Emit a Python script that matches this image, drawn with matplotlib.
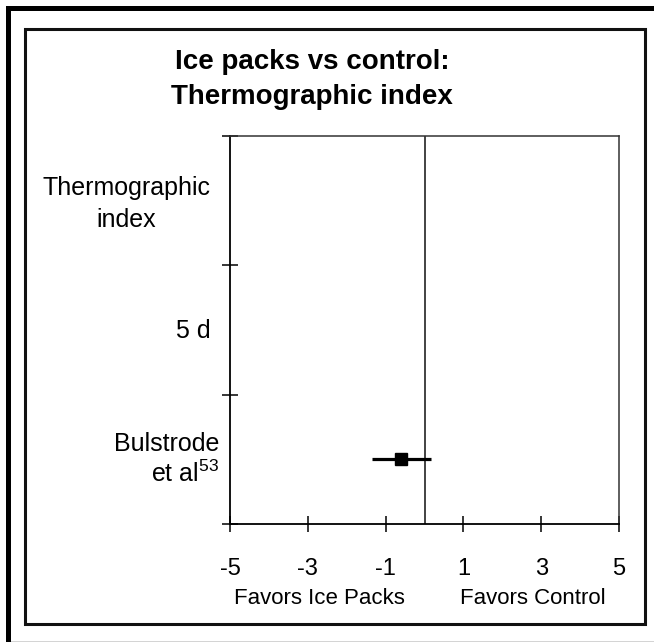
import matplotlib
matplotlib.use("Agg")
import matplotlib.pyplot as plt
from matplotlib.patches import Rectangle

# --- data ---
row_labels = ["Thermographic\nindex", "5 d", "Bulstrode\net al$^{53}$"]
study_labels = ["Bulstrode et al"]
study_mean = [-0.61]
study_lo = [-1.35]
study_hi = [0.16]
study_row = [2]          # which row (from the top) the study sits in
x_ticks = [-5, -3, -1, 1, 3, 5]
favors_left = "Favors Ice Packs"
favors_right = "Favors Control"
title = "Ice packs vs control:\nThermographic index"

plt.rcParams["font.family"] = ["Liberation Sans", "DejaVu Sans"]
plt.rcParams["mathtext.fontset"] = "custom"
plt.rcParams["mathtext.rm"] = "Liberation Sans"
plt.rcParams["mathtext.default"] = "regular"

W, H = 654, 642
fig = plt.figure(figsize=(W / 100, H / 100), dpi=100)


def px_rect(x0, y0, x1, y1, **kw):
    # rectangle given in pixel coords (origin top-left)
    return Rectangle((x0 / W, 1 - y1 / H), (x1 - x0) / W, (y1 - y0) / H,
                     transform=fig.transFigure, **kw)


# outer thick frame (only top and left show), grey line at the bottom
fig.add_artist(px_rect(6, 6, 654, 11, color="black", lw=0))
fig.add_artist(px_rect(6, 6, 11, 642, color="black", lw=0))
fig.add_artist(px_rect(11, 640.5, 654, 642, color="#d4d4d4", lw=0))
# inner box
fig.add_artist(px_rect(24.5, 28.5, 644.5, 623.5, fill=False,
                       edgecolor="#111111", lw=2.2))

# axes area 230..619 x 136..524 px
ax = fig.add_axes([230 / W, 1 - 524 / H, 389 / W, 388 / H])
n = len(row_labels)
ax.set_xlim(-5, 5)
ax.set_ylim(0, n)

# zero line
ax.axvline(0, color="#222222", lw=1.2, zorder=1)

# study estimates
for m, lo, hi, r in zip(study_mean, study_lo, study_hi, study_row):
    y = n - r - 0.5
    ax.plot([lo, hi], [y, y], color="black", lw=2.3, solid_capstyle="butt", zorder=3)
    ax.plot([m], [y], marker="s", color="black", ms=8.5, zorder=4)

# spines
for s in ["left", "bottom"]:
    ax.spines[s].set_linewidth(1.3)
    ax.spines[s].set_color("black")
for s in ["top", "right"]:
    ax.spines[s].set_linewidth(1.1)
    ax.spines[s].set_color("#333333")

ax.set_xticks(x_ticks)
ax.set_xticklabels([str(t) for t in x_ticks], fontsize=17)
ax.set_yticks(range(n + 1))
ax.set_yticklabels([])
ax.tick_params(axis="both", direction="inout", length=11, width=1.1, color="black")
ax.tick_params(axis="x", pad=19)

# row labels, right-aligned block, per-label line alignment
label_x = [-0.05, -0.051, -0.028]
label_dy = [-0.025, -0.01, 0.0]
label_ma = ["center", "right", "right"]
label_ls = [1.46, 1.2, 1.2]
for i, lab in enumerate(row_labels):
    ax.text(label_x[i], n - i - 0.5 + label_dy[i], lab,
            transform=ax.get_yaxis_transform(),
            ha="right", va="center", multialignment=label_ma[i],
            fontsize=18, linespacing=label_ls[i])

fig.text(312 / W, 1 - 79.5 / H, title, ha="center", va="center",
         fontsize=20, fontweight="bold", linespacing=1.42)
fig.text(319 / W, 1 - 598 / H, favors_left, ha="center", va="center", fontsize=16)
fig.text(533 / W, 1 - 598 / H, favors_right, ha="center", va="center", fontsize=16)

fig.savefig("out.png", dpi=100)
